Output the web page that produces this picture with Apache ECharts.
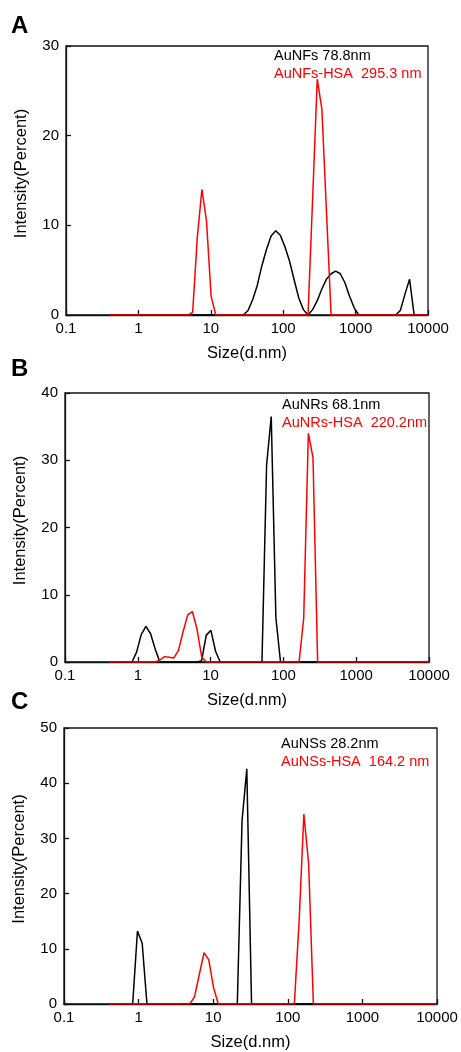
<!DOCTYPE html>
<html>
<head>
<meta charset="utf-8">
<script src="https://cdn.jsdelivr.net/npm/echarts@6/dist/echarts.min.js"></script>
<style>
  html, body { margin: 0; padding: 0; background: #fff; }
  #dls-chart { width: 461px; height: 1052px; }
</style>
</head>
<body>
<div id="dls-chart"></div>
<script>
// size bins (d.nm), same for every measurement
var sizes = [
  0.4, 0.4632, 0.5365, 0.6213, 0.7195, 0.8332, 0.9649, 1.117, 1.294, 1.499,
  1.736, 2.01, 2.328, 2.696, 3.122, 3.615, 4.187, 4.849, 5.615, 6.503,
  7.531, 8.721, 10.1, 11.7, 13.54, 15.69, 18.17, 21.04, 24.36, 28.21,
  32.67, 37.84, 43.82, 50.75, 58.77, 68.06, 78.82, 91.28, 105.7, 122.4,
  141.8, 164.2, 190.1, 220.2, 255, 295.3, 342, 396.1, 458.7, 531.2,
  615.1, 712.4, 825, 955.4, 1106, 1281, 1484, 1718, 1990, 2305,
  2669, 3091, 3580, 4145, 4801, 5560, 6439, 7456, 8635, 10000
];

// A: AuNFs / AuNFs-HSA
var auNFs = [
  0, 0, 0, 0, 0, 0, 0, 0, 0, 0,
  0, 0, 0, 0, 0, 0, 0, 0, 0, 0,
  0, 0, 0, 0, 0, 0, 0, 0, 0, 0,
  0.5, 1.7, 3.3, 5.5, 7.3, 8.8, 9.4, 8.9, 7.6, 6.0,
  3.9, 1.9, 0.6, 0, 0.6, 1.6, 2.9, 4.0, 4.6, 4.9,
  4.6, 3.6, 2.1, 0.8, 0, 0, 0, 0, 0, 0,
  0, 0, 0, 0.5, 2.3, 4.0, 0, 0, 0, 0
];
var auNFsHSA = [
  0, 0, 0, 0, 0, 0, 0, 0, 0, 0,
  0, 0, 0, 0, 0, 0, 0, 0, 0.3, 8.6,
  14.0, 10.5, 2.1, 0, 0, 0, 0, 0, 0, 0,
  0, 0, 0, 0, 0, 0, 0, 0, 0, 0,
  0, 0, 0, 0, 13.0, 26.3, 23.0, 11.5, 0, 0,
  0, 0, 0, 0, 0, 0, 0, 0, 0, 0,
  0, 0, 0, 0, 0, 0, 0, 0, 0, 0
];

// B: AuNRs / AuNRs-HSA
var auNRs = [
  0, 0, 0, 0, 0, 0, 1.5, 4.1, 5.3, 4.2,
  1.9, 0, 0, 0, 0, 0, 0, 0, 0, 0,
  0.2, 4.0, 4.7, 1.6, 0, 0, 0, 0, 0, 0,
  0, 0, 0, 0, 29.3, 36.5, 6.6, 0, 0, 0,
  0, 0, 0, 0, 0, 0, 0, 0, 0, 0,
  0, 0, 0, 0, 0, 0, 0, 0, 0, 0,
  0, 0, 0, 0, 0, 0, 0, 0, 0, 0
];
var auNRsHSA = [
  0, 0, 0, 0, 0, 0, 0, 0, 0, 0,
  0, 0.3, 0.8, 0.7, 0.6, 1.7, 4.5, 7.0, 7.5, 4.9,
  0.8, 0, 0, 0, 0, 0, 0, 0, 0, 0,
  0, 0, 0, 0, 0, 0, 0, 0, 0, 0,
  0, 0, 6.5, 34.0, 30.4, 0, 0, 0, 0, 0,
  0, 0, 0, 0, 0, 0, 0, 0, 0, 0,
  0, 0, 0, 0, 0, 0, 0, 0, 0, 0
];

// C: AuNSs / AuNSs-HSA
var auNSs = [
  0, 0, 0, 0, 0, 0, 13.2, 11.0, 0, 0,
  0, 0, 0, 0, 0, 0, 0, 0, 0, 0,
  0, 0, 0, 0, 0, 0, 0, 0, 33.2, 42.6,
  0, 0, 0, 0, 0, 0, 0, 0, 0, 0,
  0, 0, 0, 0, 0, 0, 0, 0, 0, 0,
  0, 0, 0, 0, 0, 0, 0, 0, 0, 0,
  0, 0, 0, 0, 0, 0, 0, 0, 0, 0
];
var auNSsHSA = [
  0, 0, 0, 0, 0, 0, 0, 0, 0, 0,
  0, 0, 0, 0, 0, 0, 0, 0, 1.3, 5.3,
  9.3, 8.0, 3.0, 0, 0, 0, 0, 0, 0, 0,
  0, 0, 0, 0, 0, 0, 0, 0, 0, 0,
  15.0, 34.4, 25.5, 0, 0, 0, 0, 0, 0, 0,
  0, 0, 0, 0, 0, 0, 0, 0, 0, 0,
  0, 0, 0, 0, 0, 0, 0, 0, 0, 0
];

var xTickLabels = ["0.1", "1", "10", "100", "1000", "10000"];
var yMax = [30, 40, 50];
var panelLetters = ["A", "B", "C"];
var blackNotes = ["AuNFs 78.8nm", "AuNRs 68.1nm", "AuNSs 28.2nm"];
var redNotes = ["AuNFs-HSA  295.3 nm", "AuNRs-HSA  220.2nm", "AuNSs-HSA  164.2 nm"];
var blackSets = [auNFs, auNRs, auNSs];
var redSets = [auNFsHSA, auNRsHSA, auNSsHSA];

var FONT = "Liberation Sans, Arial, sans-serif";

var grids = [
  { left: 66, right: 33, top: 46, height: 269 },
  { left: 65, right: 32, top: 393, height: 269 },
  { left: 64, right: 24, top: 728, height: 276 }
];
var letterPos = [[11, 14], [11, 357], [11, 690]];
var notePos = [[274, 48], [282, 397], [281, 736]];

function pairs(vals) {
  return sizes.map(function (s, i) { return [s, vals[i]]; });
}

var xAxes = [], yAxes = [], series = [], graphics = [];

grids.forEach(function (g, k) {
  g.show = true;
  g.borderColor = "#111";
  g.borderWidth = 1.3;
  g.containLabel = false;

  xAxes.push({
    type: "log",
    logBase: 10,
    gridIndex: k,
    min: 0.1,
    max: 10000,
    splitNumber: 5,
    name: "Size(d.nm)",
    nameLocation: "middle",
    nameGap: 30,
    nameTextStyle: { color: "#000", fontSize: 16.5, fontFamily: FONT },
    axisLine: { show: true, lineStyle: { color: "#111", width: 1.3 } },
    axisTick: { show: true, inside: true, length: 5, lineStyle: { color: "#111", width: 1.3 } },
    axisLabel: {
      color: "#000",
      fontSize: 15,
      fontFamily: FONT,
      margin: 6,
      showMinLabel: true,
      showMaxLabel: true,
      formatter: function (v, idx) { return xTickLabels[idx]; }
    },
    splitLine: { show: false },
    minorTick: { show: false }
  });

  yAxes.push({
    type: "value",
    gridIndex: k,
    min: 0,
    max: yMax[k],
    interval: 10,
    name: "Intensity(Percent)",
    nameLocation: "middle",
    nameGap: 36,
    // nudges the title a little above the plot's middle, as in the original
    nameTextStyle: { color: "#000", fontSize: 16.5, fontFamily: FONT, padding: [0, 0, 0, 14] },
    axisLine: { show: true, lineStyle: { color: "#111", width: 1.3 } },
    axisTick: { show: true, inside: true, length: 5, lineStyle: { color: "#111", width: 1.3 } },
    axisLabel: { color: "#000", fontSize: 15, fontFamily: FONT, margin: 7 },
    splitLine: { show: false }
  });

  series.push({
    type: "line",
    xAxisIndex: k,
    yAxisIndex: k,
    data: pairs(blackSets[k]),
    showSymbol: false,
    lineStyle: { color: "#000", width: 1.5 },
    itemStyle: { color: "#000" },
    z: 3
  });
  series.push({
    type: "line",
    xAxisIndex: k,
    yAxisIndex: k,
    data: pairs(redSets[k]),
    showSymbol: false,
    lineStyle: { color: "#ff0000", width: 1.5 },
    itemStyle: { color: "#ff0000" },
    z: 4
  });

  graphics.push({
    type: "text",
    left: letterPos[k][0],
    top: letterPos[k][1],
    style: { text: panelLetters[k], fill: "#000", font: "bold 24px " + FONT }
  });
  graphics.push({
    type: "text",
    left: notePos[k][0],
    top: notePos[k][1],
    style: { text: blackNotes[k], fill: "#000", font: "14.5px " + FONT }
  });
  graphics.push({
    type: "text",
    left: notePos[k][0],
    top: notePos[k][1] + 18,
    style: { text: redNotes[k], fill: "#ff0000", font: "14.5px " + FONT }
  });
});

var chart = echarts.init(document.getElementById("dls-chart"));
chart.setOption({
  animation: false,
  backgroundColor: "#fff",
  grid: grids,
  xAxis: xAxes,
  yAxis: yAxes,
  series: series,
  graphic: graphics
});
window.addEventListener("resize", function () { chart.resize(); });
</script>
</body>
</html>
